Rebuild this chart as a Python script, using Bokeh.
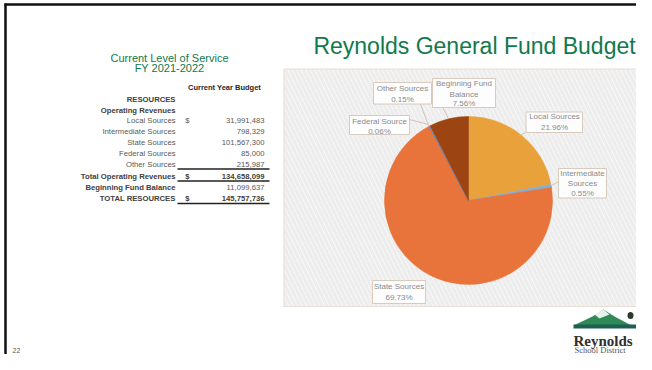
from bokeh.plotting import figure
from bokeh.models import Range1d, ColumnDataSource
from bokeh.core.properties import value
from bokeh.embed import file_html
from bokeh.resources import INLINE
import numpy as np

# ---------------- data ----------------
categories = ["Local Sources", "Intermediate Sources", "State Sources",
              "Federal Sources", "Other Sources", "Beginning Fund Balance"]
pct = [21.96, 0.55, 69.73, 0.06, 0.15, 7.56]
slice_colors = ["#E9A23B", "#7FB0DF", "#E8743B", "#4A7EBB", "#6D9FD6", "#9C4513"]
callout_lines = [["Local Sources", "21.96%"],
                 ["Intermediate", "Sources", "0.55%"],
                 ["State Sources", "69.73%"],
                 ["Federal Source", "0.06%"],
                 ["Other Sources", "0.15%"],
                 ["Beginning Fund", "Balance", "7.56%"]]

row_labels = ["RESOURCES", "Operating Revenues", "Local Sources", "Intermediate Sources",
              "State Sources", "Federal Sources", "Other Sources", "Total Operating Revenues",
              "Beginning Fund Balance", "TOTAL RESOURCES"]
row_dollar = ["", "", "$", "", "", "", "", "$", "", "$"]
row_values = ["", "", "31,991,483", "798,329", "101,567,300", "85,000", "215,987",
              "134,658,099", "11,099,637", "145,757,736"]
row_bold = [True, True, False, False, False, False, False, True, True, True]
value_bold = [False, False, False, False, False, False, False, True, False, True]

FONT = value("Liberation Sans")
SERIF = value("Liberation Serif")
GREEN = "#11794C"

def Y(s):
    return 370 - s

p = figure(width=636, height=354, output_backend="svg", toolbar_location=None,
           x_range=Range1d(0, 636), y_range=Range1d(16, 370), min_border=0)
p.axis.visible = False
p.grid.visible = False
p.outline_line_color = None
p.background_fill_color = "white"
p.border_fill_color = "white"

# slide frame
p.line(x=[5, 5], y=[Y(3), Y(370)], line_color="#111111", line_width=2.5)
p.line(x=[4, 636], y=[Y(4), Y(4)], line_color="#111111", line_width=2.5)

# titles
p.text(x=[474], y=[Y(45)], text=["Reynolds General Fund Budget"], text_font=FONT,
       text_font_size="23px", text_color=GREEN, text_align="center", text_baseline="alphabetic")
p.text(x=[169, 169], y=[Y(57), Y(67)], text=["Current Level of Service", "FY 2021-2022"],
       text_font=FONT, text_font_size="11px", text_color=GREEN, text_align="center",
       text_baseline="alphabetic")

# table
p.text(x=[224], y=[Y(87)], text=["Current Year Budget"], text_font=FONT, text_font_size="7.5px",
       text_font_style="bold", text_color="#262626", text_align="center", text_baseline="middle")
row_y = [99, 109.5, 120, 131, 142, 153, 164, 175.5, 186.7, 197.7]
for i, lab in enumerate(row_labels):
    bold = row_bold[i]
    col = "#404040" if bold else "#595959"
    p.text(x=[175], y=[Y(row_y[i])], text=[lab], text_font=FONT, text_font_size="7.7px",
           text_font_style="bold" if bold else "normal", text_color=col,
           text_align="right", text_baseline="middle")
    if row_dollar[i]:
        p.text(x=[187], y=[Y(row_y[i])], text=[row_dollar[i]], text_font=FONT,
               text_font_size="7.7px", text_font_style="bold" if value_bold[i] else "normal",
               text_color="#404040" if value_bold[i] else "#595959",
               text_align="center", text_baseline="middle")
    if row_values[i]:
        p.text(x=[264], y=[Y(row_y[i])], text=[row_values[i]], text_font=FONT,
               text_font_size="7.7px", text_font_style="bold" if value_bold[i] else "normal",
               text_color="#404040" if value_bold[i] else "#595959",
               text_align="right", text_baseline="middle")
for ly, lw in [(168.5, 1.6), (180.5, 1.6), (203, 1.6)]:
    p.line(x=[177, 269], y=[Y(ly), Y(ly)], line_color="#222222", line_width=lw)

# plot area (hatched)
p.quad(left=[283.5], right=[649], top=[Y(68.5)], bottom=[Y(306)], fill_color="white",
       line_color="#E9DED6", line_width=1.2, hatch_pattern="\\", hatch_color="#EDEDED",
       hatch_scale=9, hatch_weight=3.5)

# pie
cx, cy, r = 468, Y(200), 84
cum = np.concatenate([[0], np.cumsum(pct)]) / sum(pct)
starts = np.pi / 2 - 2 * np.pi * cum[:-1]
ends = np.pi / 2 - 2 * np.pi * cum[1:]
src = ColumnDataSource(dict(start=starts, end=ends, color=slice_colors, cat=categories))
p.wedge(x=cx, y=cy, radius=r, start_angle="start", end_angle="end", direction="clock",
        fill_color="color", line_color="color", line_width=0.6, source=src)

# callouts: box (left, right, top, bottom), text center x, line ys, leader
boxes = [(525.5, 582, 111.5, 132), (558, 606, 168, 197.5), (372, 425, 280, 303),
         (349, 409, 115, 134), (373, 431, 82, 103.5), (432, 495, 78, 107)]
text_cx = [554, 582, 398.5, 379, 402, 463.5]
text_ys = [[116.3, 127.3], [172.8, 183, 192.5], [285.5, 296.5], [120.5, 130.5],
           [87.5, 98.5], [83, 93.5, 103]]
leaders = [((525.5, 132), (519, 135)), ((558, 181), (551, 185)), None,
           ((409, 119), (428, 124)), ((420, 103.5), (428, 125)), ((442, 107), (448, 118))]
for i in range(len(categories)):
    if leaders[i]:
        (x0, y0), (x1, y1) = leaders[i]
        p.line(x=[x0, x1], y=[Y(y0), Y(y1)], line_color="#D2C4B6", line_width=1)
for i in range(len(categories)):
    l, rr, t, b = boxes[i]
    p.quad(left=[l], right=[rr], top=[Y(t)], bottom=[Y(b)], fill_color="white",
           fill_alpha=0.85, line_color="#D8CABD", line_width=1)
    for s, ty in zip(callout_lines[i], text_ys[i]):
        p.text(x=[text_cx[i]], y=[Y(ty)], text=[s], text_font=FONT, text_font_size="8px",
               text_color="#8A8A8A", text_align="center", text_baseline="middle")

# logo (kept inside the drawable area)
p.patch(x=[573, 592, 603, 614, 631], y=[Y(325), Y(316), Y(309), Y(316), Y(325)],
        fill_color="#2F8A55", line_color=None)
p.patch(x=[594, 603, 609, 599], y=[Y(314), Y(309), Y(314), Y(318)],
        fill_color="#E8F2EC", line_color=None)
p.quad(left=[573], right=[636], top=[Y(324)], bottom=[Y(328)], fill_color="#1F5E55",
       line_color=None)
p.ellipse(x=[630], y=[Y(315)], width=6, height=7, fill_color="#2D3B2F", line_color=None)
p.text(x=[573], y=[Y(340)], text=["Reynolds"], text_font=SERIF, text_font_size="15px",
       text_font_style="bold", text_color="#2F2F2F", text_baseline="alphabetic")
p.text(x=[574], y=[Y(349)], text=["School District"], text_font=SERIF, text_font_size="8.5px",
       text_color="#555555", text_baseline="alphabetic")

# page number
p.text(x=[12], y=[Y(350)], text=["22"], text_font=FONT, text_font_size="7px",
       text_color="#595959", text_baseline="alphabetic")

open("out.html", "w").write(file_html(p, INLINE))
